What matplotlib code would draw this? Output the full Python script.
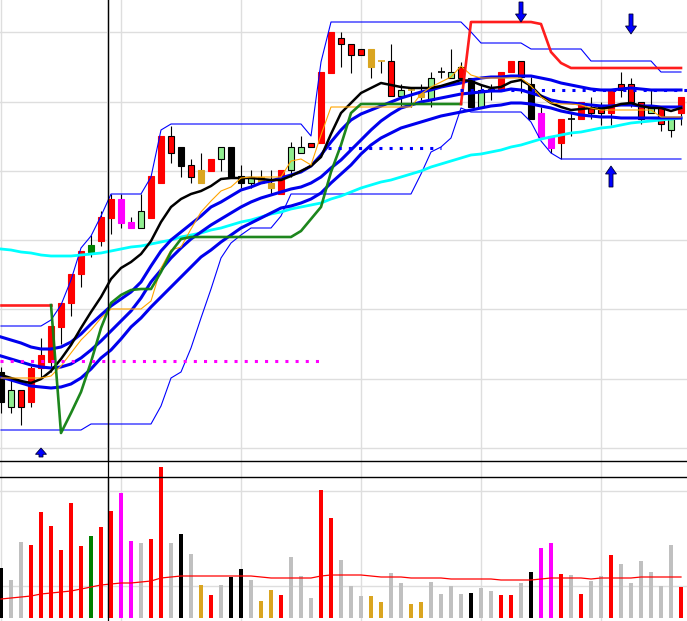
import matplotlib
matplotlib.use("Agg")
import matplotlib.pyplot as plt
from matplotlib.patches import Rectangle
import numpy as np

# ---- candles (chart units, one entry per bar) ----
opens = [89, 71, 54, 59, 93, 99, 134, 158, 187, 209,
         220, 243, 262, 239, 250, 243, 278, 308, 314, 284,
         291, 290, 314, 314, 285, 284, 284, 278, 267, 314,
         314, 314, 318, 388, 417, 406, 406, 412, 400, 365,
         371, 371, 368, 383, 389, 389, 383, 383, 371, 371,
         371, 389, 384, 377, 348, 325, 318, 342, 342, 348,
         348, 348, 371, 359, 342, 354, 337, 342, 348]
closes = [59, 54, 71, 93, 106, 135, 158, 187, 210, 216,
          244, 262, 238, 233, 233, 285, 325, 325, 295, 296,
          278, 302, 302, 284, 278, 278, 278, 273, 291, 291,
          308, 318, 389, 429, 423, 417, 412, 394, 400, 400,
          365, 371, 364, 361, 389, 383, 394, 354, 354, 371,
          389, 400, 400, 342, 324, 313, 342, 342, 359, 354,
          354, 371, 377, 377, 359, 348, 354, 331, 364]
highs = [94, 82, 71, 95, 123, 135, 158, 187, 210, 226,
         250, 267, 267, 244, 267, 285, 325, 335, 314, 302,
         308, 302, 314, 314, 296, 291, 291, 291, 291, 319,
         325, 318, 389, 429, 429, 417, 412, 412, 400, 417,
         377, 373, 377, 389, 394, 412, 399, 383, 377, 377,
         389, 400, 400, 384, 354, 325, 342, 348, 359, 364,
         359, 371, 389, 383, 359, 371, 354, 342, 364]
lows = [48, 48, 36, 54, 83, 89, 117, 145, 174, 204,
        215, 227, 233, 233, 233, 243, 278, 298, 284, 278,
        278, 290, 290, 284, 273, 273, 278, 267, 267, 284,
        308, 314, 318, 388, 394, 388, 406, 383, 388, 365,
        354, 354, 361, 354, 383, 383, 383, 354, 354, 361,
        371, 389, 368, 342, 324, 308, 302, 325, 342, 342,
        336, 336, 364, 354, 337, 348, 330, 324, 336]
kinds = ("k g ro r r r r r r dg "
         "r r m m g r r ro k ro "
         "y r g k k g y y r g "
         "g ro r r ro ro ro y yd ro "
         "g yd y g d g ro k g d "
         "r r ro k m m r d r ro "
         "ro r ro ro ro g ro g r").split()

volume = [50, 38, 76, 73, 106, 92, 68, 115, 72, 82,
          91, 107, 125, 77, 75, 79, 151, 75, 84, 64,
          33, 23, 33, 41, 49, 38, 17, 28, 23, 61,
          42, 20, 128, 100, 58, 32, 22, 22, 16, 45,
          35, 14, 16, 36, 24, 32, 24, 25, 30, 27,
          23, 23, 35, 46, 70, 75, 44, 43, 24, 37,
          42, 63, 54, 35, 57, 46, 32, 73, 31]
vol_ma = [19, 20, 21, 22, 24, 25, 26, 27, 29, 31,
          33, 34, 35, 35, 36, 37, 40, 41, 42, 42,
          42, 42, 42, 42, 42, 42, 41, 40, 40, 40,
          40, 40, 42, 43, 43, 43, 43, 42, 41, 41,
          41, 40, 40, 40, 40, 39, 39, 39, 39, 39,
          38, 38, 38, 38, 39, 40, 40, 40, 40, 39,
          40, 40, 40, 40, 41, 41, 41, 41, 41]

# ---- overlays ----
ma_black = [86, 83, 80, 78, 82, 90, 102, 116, 133, 149,
            164, 182, 193, 199, 207, 220, 239, 254, 262, 267,
            270, 275, 282, 283, 283, 283, 282, 281, 281, 285,
            290, 295, 304, 327, 348, 358, 368, 373, 378, 376,
            374, 373, 373, 373, 375, 378, 381, 380, 376, 373,
            374, 379, 381, 375, 365, 358, 354, 351, 352, 353,
            352, 354, 357, 358, 355, 353, 353, 350, 353]
band_upper = [124, 121, 118, 114, 112, 112, 114, 119, 127, 137,
              146, 155, 162, 169, 179, 195, 210, 221, 229, 237,
              245, 254, 259, 265, 271, 274, 278, 280, 283, 286,
              289, 295, 306, 319, 331, 341, 347, 351, 355, 359,
              363, 366, 369, 371, 374, 376, 378, 381, 383, 384,
              384, 385, 385, 385, 383, 381, 378, 376, 374, 372,
              371, 371, 372, 373, 372, 371, 371, 371, 371]
band_mid = [105, 102, 99, 96, 94, 93, 94, 97, 103, 111,
            120, 130, 140, 150, 163, 179, 191, 203, 213, 222,
            229, 236, 242, 248, 254, 259, 263, 266, 269, 272,
            274, 278, 284, 293, 301, 311, 321, 331, 340, 347,
            353, 356, 359, 361, 363, 365, 367, 368, 369, 370,
            370, 372, 371, 368, 365, 361, 359, 358, 357, 356,
            355, 355, 356, 356, 355, 355, 354, 354, 354]
band_lower = [84, 81, 78, 75, 74, 73, 74, 77, 83, 92,
              103, 111, 122, 134, 143, 154, 164, 174, 184, 194,
              204, 211, 219, 226, 233, 238, 243, 248, 253, 255,
              258, 262, 268, 278, 287, 296, 307, 316, 323, 328,
              333, 336, 339, 342, 345, 347, 349, 351, 353, 355,
              356, 358, 358, 357, 355, 353, 350, 348, 346, 345,
              344, 344, 343, 343, 343, 343, 343, 343, 343]
ma_cyan = [212, 211, 209, 208, 206, 205, 205, 205, 206, 207,
           208, 210, 212, 214, 215, 217, 219, 221, 224, 226,
           228, 231, 233, 236, 239, 241, 244, 247, 249, 252,
           254, 256, 258, 262, 265, 269, 273, 276, 279, 281,
           284, 287, 290, 294, 297, 300, 303, 306, 307, 309,
           311, 314, 316, 319, 322, 324, 326, 328, 329, 331,
           333, 334, 336, 338, 339, 340, 341, 342, 343]
ma_orange = [83, 83, 83, 83, 83, 85, 95, 108, 121, 131,
             143, 152, 152, 152, 152, 160, 193, 211, 214, 232,
             249, 260, 270, 274, 283, 284, 284, 284, 284, 300,
             302, 296, 326, 354, 354, 354, 354, 354, 354, 354,
             354, 354, 367, 374, 379, 384, 395, 386, 383, 383,
             383, 383, 383, 375, 364, 358, 357, 357, 356, 353,
             351, 351, 351, 351, 351, 351, 344, 344, 344]
stop_line = [156, 156, 156, 156, 156, 156, 28, 48, 69, 99,
             133, 158, 166, 171, 172, 172, 189, 209, 222, 224,
             224, 224, 224, 224, 224, 224, 224, 224, 224, 224,
             230, 242, 254, 289, 316, 348, 357, 357, 357, 357,
             357, 357, 357, 357, 357, 357, 357, 439, 439, 439,
             439, 439, 439, 439, 437, 409, 398, 393, 393, 393,
             393, 393, 393, 393, 393, 393, 393, 393, 393]
stop_side = list("rrrrrr" + "g" * 41 + "r" * 22)
chan_high = [135, 135, 135, 135, 135, 141, 156, 181, 213, 225,
             245, 267, 267, 267, 267, 284, 331, 337, 337, 337,
             337, 337, 337, 337, 337, 337, 337, 337, 337, 337,
             337, 325, 399, 439, 439, 439, 439, 439, 439, 439,
             439, 439, 439, 439, 439, 439, 439, 429, 418, 418,
             418, 418, 418, 412, 412, 412, 412, 412, 412, 400,
             400, 400, 400, 400, 400, 400, 389, 389, 389]
chan_low = [31, 31, 31, 31, 31, 31, 31, 31, 31, 37,
            37, 37, 37, 37, 37, 37, 55, 83, 89, 113,
            143, 172, 203, 218, 226, 233, 233, 233, 245, 267,
            267, 267, 267, 267, 267, 267, 267, 267, 267, 267,
            267, 267, 287, 309, 314, 323, 353, 349, 349, 349,
            349, 349, 349, 339, 320, 308, 302, 302, 302, 302,
            302, 302, 302, 302, 302, 302, 302, 302, 302]

# dotted levels: value, first bar, last bar, colour
levels = [(100, -0.1, 32.0, "#ff00ff"),
          (313, 32.7, 44.0, "#0000ff"),
          (371, 45.9, 68.6, "#0000ff")]
sell_marks = [(52, 439, 20), (63, 427, 20)]
buy_marks = [(61, 295, 21), (4, 13, 9)]
cursor_bar = 10.7

face = {"r": "#ff0000", "ro": "#ff0000", "k": "#000000", "g": "#90ee90",
        "m": "#ff00ff", "y": "#daa520", "yd": "#daa520", "dg": "#008000", "d": "#000000"}
edge = {"r": "#ff0000", "ro": "#000000", "k": "#000000", "g": "#000000",
        "m": "#ff00ff", "y": "#daa520", "yd": "#daa520", "dg": "#008000", "d": "#000000"}
vol_col = {"r": "#ff0000", "ro": "#c0c0c0", "k": "#000000", "g": "#c0c0c0",
           "m": "#ff00ff", "y": "#daa520", "yd": "#daa520", "dg": "#008000", "d": "#c0c0c0"}

W, H = 687, 621
xlim = (-0.1, 68.6)
grid_col = "#dedede"

fig = plt.figure(figsize=(W / 100, H / 100), dpi=100)
fig.patch.set_facecolor("white")

ax_bg = fig.add_axes([0, 0, 1, 1], zorder=0)
ax_bg.set_xlim(*xlim)
ax_bg.set_ylim(0, 1)
ax_bg.axis("off")
for gx in range(0, 69, 12):
    ax_bg.axvline(gx, color=grid_col, lw=1.0)
ax_bg.axvline(cursor_bar, color="black", lw=0.9)

ax = fig.add_axes([0, 160 / H, 1, 461 / H], zorder=2)
axv = fig.add_axes([0, 3 / H, 1, 141 / H], zorder=3)
for a in (ax, axv):
    a.set_facecolor("none")
    a.set_xlim(*xlim)
    a.tick_params(length=0, labelbottom=False, labelleft=False)
    a.set_xticks([])
    for s in a.spines.values():
        s.set_visible(False)
ax.set_ylim(0, 461)
ax.set_yticks(np.arange(13, 461, 69.3))
ax.grid(axis="y", color=grid_col, lw=1.0)
ax.spines["bottom"].set_visible(True)
ax.spines["bottom"].set_linewidth(1.0)
axv.set_ylim(0, 141)
axv.set_yticks([32, 127])
axv.grid(axis="y", color=grid_col, lw=1.0)
axv.spines["top"].set_visible(True)
axv.spines["top"].set_linewidth(1.0)
ax.set_axisbelow(True)
axv.set_axisbelow(True)

bars = np.arange(len(opens))

# candles
ax.vlines(bars, lows, highs, color="black", lw=0.8, zorder=2)
for i, (o, c, k) in enumerate(zip(opens, closes, kinds)):
    if o == c:
        ax.hlines(o, i - 0.35, i + 0.35, color=edge[k], lw=1.2, zorder=3)
        continue
    ax.add_patch(Rectangle((i - 0.33, min(o, c)), 0.66, abs(c - o),
                           facecolor=face[k], edgecolor=edge[k], lw=0.8, zorder=3))

# overlays
ax.plot(bars, chan_high, color="#0000ff", lw=0.8, zorder=4)
ax.plot(bars, chan_low, color="#0000ff", lw=0.8, zorder=4)
ax.plot(bars, ma_cyan, color="#00ffff", lw=2.0, zorder=5)
for band in (band_upper, band_mid, band_lower):
    ax.plot(bars, band, color="#0000ee", lw=2.2, zorder=5)
ax.plot(bars, ma_black, color="black", lw=1.8, zorder=6)
ax.plot(bars, ma_orange, color="#ffa500", lw=0.8, zorder=6)

# stop line: a segment takes the colour of the bar it ends on
runs = []
cur = stop_side[1]
seg_start = 0
for i in range(1, len(stop_line)):
    if stop_side[i] != cur:
        runs.append((seg_start, i - 1, cur))
        seg_start = i - 1
        cur = stop_side[i]
runs.append((seg_start, len(stop_line) - 1, cur))
for a, b, side in runs:
    col = "#ff1010" if side == "r" else "#108010"
    ax.plot(bars[a:b + 1], stop_line[a:b + 1], color=col, lw=1.9, zorder=7, alpha=0.95)

for val, x0, x1, col in levels:
    ax.plot([x0, x1], [val, val], color=col, lw=2.2, dashes=(1, 2.33),
            dash_capstyle="butt", zorder=8)


def arrow(x, tip, length, down):
    d = 1 if down else -1
    head = min(8, length * 0.7)
    xs = [x, x - 0.55, x - 0.2, x - 0.2, x + 0.2, x + 0.2, x + 0.55]
    ys = [tip, tip + d * head, tip + d * head, tip + d * length,
          tip + d * length, tip + d * head, tip + d * head]
    ax.fill(xs, ys, facecolor="#0000ff", edgecolor="#000033", lw=0.6, zorder=9)


for x, tip, ln in sell_marks:
    arrow(x, tip, ln, True)
for x, tip, ln in buy_marks:
    arrow(x, tip, ln, False)

ax.axvline(cursor_bar, color="black", lw=0.9, zorder=10)
axv.axvline(cursor_bar, color="black", lw=0.9, zorder=10)

# volume (tall bars may run past the panel top, as in the source)
vb = axv.bar(bars, volume, width=0.32, color=[vol_col[k] for k in kinds], zorder=2)
for p in vb:
    p.set_clip_on(False)
axv.plot(bars, vol_ma, color="#ff0000", lw=0.9, zorder=3)

fig.savefig("out.png", dpi=100)
